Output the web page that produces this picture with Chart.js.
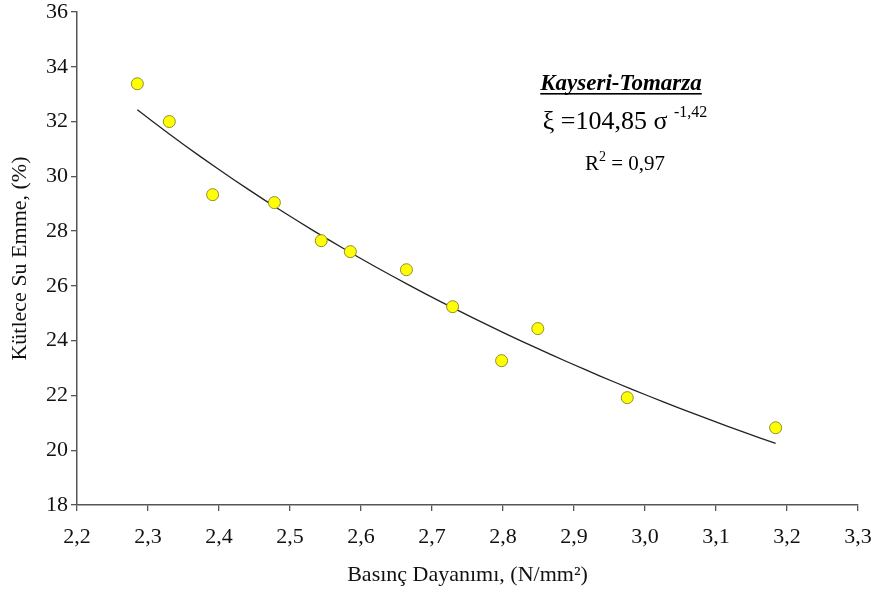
<!DOCTYPE html>
<html>
<head>
<meta charset="utf-8">
<script src="https://cdn.jsdelivr.net/npm/chart.js@4.4.1/dist/chart.umd.min.js"></script>
<style>
  html, body { margin: 0; padding: 0; background: #fff; }
  #wrap { width: 877px; height: 590px; }
</style>
</head>
<body>
<div id="wrap"><canvas id="grafik"></canvas></div>
<script>
// basınç dayanımı (N/mm2) ve kütlece su emme (%) ölçümleri
var basincDayanimi = [2.285, 2.330, 2.391, 2.478, 2.544, 2.585, 2.664, 2.729, 2.798, 2.849, 2.975, 3.184];
var kutleceSuEmme  = [33.38, 32.00, 29.33, 29.04, 27.65, 27.25, 26.59, 25.24, 23.27, 24.44, 21.92, 20.82];

// regresyon: xi = a * sigma^b
var katsayiA = 104.85;
var usB = -1.42;
var r2 = 0.97;

var xTicks = [2.2, 2.3, 2.4, 2.5, 2.6, 2.7, 2.8, 2.9, 3.0, 3.1, 3.2, 3.3];
var yTicks = [18, 20, 22, 24, 26, 28, 30, 32, 34, 36];

var olcumler = [];
for (var i = 0; i < basincDayanimi.length; i++) {
  olcumler.push({ x: basincDayanimi[i], y: kutleceSuEmme[i] });
}

// trend eğrisi, ölçüm aralığı boyunca
var egri = [];
var xMin = Math.min.apply(null, basincDayanimi);
var xMax = Math.max.apply(null, basincDayanimi);
for (var k = 0; k <= 40; k++) {
  var xv = xMin + (xMax - xMin) * k / 40;
  egri.push({ x: xv, y: katsayiA * Math.pow(xv, usB) });
}

function virgul(v, d) {
  return v.toFixed(d).replace('.', ',');
}

var serif = "'Liberation Serif', 'Times New Roman', serif";

// sağ üstteki başlık ve denklem
var denklemYazisi = {
  id: 'denklemYazisi',
  afterDraw: function (chart) {
    var ctx = chart.ctx;
    ctx.save();
    ctx.fillStyle = '#000';
    ctx.textBaseline = 'alphabetic';

    // başlık, altı çizili
    ctx.textAlign = 'center';
    ctx.font = 'italic bold 23px ' + serif;
    var baslik = 'Kayseri-Tomarza';
    var bx = 621;
    ctx.fillText(baslik, bx, 90);
    var w = ctx.measureText(baslik).width;
    ctx.fillRect(bx - w / 2, 93, w, 1.6);

    // ksi = a sigma ^b
    var cx = 625;
    ctx.textAlign = 'left';
    var ana = '\u03BE =' + virgul(katsayiA, 2) + ' \u03C3 ';
    var us = virgul(usB, 2);
    ctx.font = '16px ' + serif;
    var usW = ctx.measureText(us).width;
    ctx.font = '26px ' + serif;
    var anaW = ctx.measureText(ana).width;
    var sol = cx - (anaW + usW) / 2;
    ctx.fillText(ana, sol, 129);
    ctx.font = '16px ' + serif;
    ctx.fillText(us, sol + anaW, 117);

    // R kare
    var rx = 625;
    ctx.font = '21px ' + serif;
    var r = 'R';
    var rW = ctx.measureText(r).width;
    var sag = ' = ' + virgul(r2, 2);
    var sagW = ctx.measureText(sag).width;
    ctx.font = '14px ' + serif;
    var ikiW = ctx.measureText('2').width;
    var s2 = rx - (rW + ikiW + sagW) / 2;
    ctx.font = '21px ' + serif;
    ctx.fillText(r, s2, 170);
    ctx.font = '14px ' + serif;
    ctx.fillText('2', s2 + rW, 161);
    ctx.font = '21px ' + serif;
    ctx.fillText(sag, s2 + rW + ikiW, 170);
    ctx.restore();
  }
};

var grafik = new Chart(document.getElementById('grafik'), {
  type: 'scatter',
  data: {
    datasets: [{
      label: 'Ölçüm',
      data: olcumler,
      backgroundColor: '#ffff00',
      borderColor: '#8f8f2a',
      borderWidth: 1,
      pointRadius: 6,
      pointHoverRadius: 6,
      order: 1
    }, {
      label: 'Trend',
      data: egri,
      showLine: true,
      pointRadius: 0,
      borderColor: '#222',
      borderWidth: 1.3,
      fill: false,
      order: 2
    }]
  },
  options: {
    responsive: true,
    maintainAspectRatio: false,
    animation: false,
    layout: { padding: { left: 0, top: 12, right: 19, bottom: 0 } },
    plugins: {
      legend: { display: false },
      tooltip: { enabled: false }
    },
    scales: {
      x: {
        type: 'linear',
        min: 2.2,
        max: 3.3,
        afterBuildTicks: function (scale) {
          scale.ticks = xTicks.map(function (v) { return { value: v }; });
        },
        afterFit: function (scale) {
          scale.height = 85;
          scale.paddingLeft = 0;
          scale.paddingRight = 0;
        },
        grid: { drawOnChartArea: false, tickLength: 6, color: '#555', lineWidth: 1.3 },
        border: { color: '#555', width: 1.5 },
        ticks: {
          color: '#111',
          padding: 13,
          maxRotation: 0,
          font: { family: serif, size: 22 },
          callback: function (v) { return virgul(v, 1); }
        },
        title: {
          display: true,
          text: 'Basınç Dayanımı, (N/mm²)',
          color: '#111',
          padding: { top: 0, bottom: 2 },
          font: { family: serif, size: 22 }
        }
      },
      y: {
        type: 'linear',
        min: 18,
        max: 36,
        afterBuildTicks: function (scale) {
          scale.ticks = yTicks.map(function (v) { return { value: v }; });
        },
        afterFit: function (scale) {
          scale.width = 77;
          scale.paddingTop = 0;
          scale.paddingBottom = 0;
        },
        grid: { drawOnChartArea: false, tickLength: 6, color: '#555', lineWidth: 1.3 },
        border: { color: '#555', width: 1.5 },
        ticks: {
          color: '#111',
          padding: 3,
          font: { family: serif, size: 22 }
        },
        title: {
          display: true,
          text: 'Kütlece Su Emme, (%)',
          color: '#111',
          padding: { top: 7, bottom: 0 },
          font: { family: serif, size: 22 }
        }
      }
    }
  },
  plugins: [denklemYazisi]
});
</script>
</body>
</html>
